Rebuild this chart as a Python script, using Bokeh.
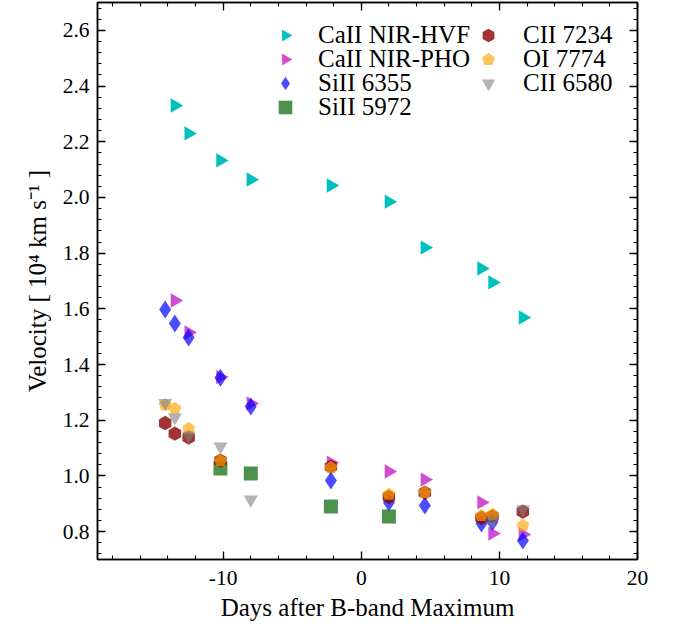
import numpy as np
from bokeh.plotting import figure
from bokeh.models import (Range1d, FixedTicker, PrintfTickFormatter, LinearAxis,
                          Legend, LegendItem, CustomJSTickFormatter)
from bokeh.embed import file_html
from bokeh.resources import INLINE

# ---------------- data (days after B max, velocity in 1e4 km/s) ----------------
hvf_days = [-13.5, -12.5, -10.2, -8.0, -2.2, 2.0, 4.6, 8.7, 9.5, 11.7]
hvf_vel = [2.330, 2.230, 2.133, 2.064, 2.043, 1.985, 1.820, 1.745, 1.695, 1.569]

pho_days = [-13.5, -12.5, -10.2, -8.0, -2.2, 2.0, 4.6, 8.7, 9.5, 11.7]
pho_vel = [1.630, 1.515, 1.355, 1.260, 1.048, 1.016, 0.987, 0.905, 0.793, 0.790]

si6355_days = [-14.2, -13.5, -12.5, -10.2, -8.0, -2.2, 2.0, 4.6, 8.7, 9.5, 11.7]
si6355_vel = [1.598, 1.547, 1.497, 1.353, 1.249, 0.984, 0.905, 0.894, 0.829, 0.835, 0.768]

si5972_days = [-10.2, -8.0, -2.2, 2.0]
si5972_vel = [1.027, 1.009, 0.890, 0.854]

c7234_days = [-14.2, -13.5, -12.5, -10.2, -2.2, 2.0, 4.6, 8.7, 9.5, 11.7]
c7234_vel = [1.190, 1.152, 1.138, 1.055, 1.033, 0.925, 0.940, 0.850, 0.855, 0.872]

o7774_days = [-14.2, -13.5, -12.5, -10.2, -2.2, 2.0, 4.6, 8.7, 9.5, 11.7]
o7774_vel = [1.255, 1.242, 1.170, 1.055, 1.030, 0.934, 0.941, 0.858, 0.862, 0.822]

c6580_days = [-14.2, -13.5, -12.5, -10.2, -8.0, 9.5, 11.7]
c6580_vel = [1.262, 1.210, 1.145, 1.106, 0.915, 0.840, 0.880]

x_ticks = [-20, -10, 0, 10, 20]
y_ticks = [0.8, 1.0, 1.2, 1.4, 1.6, 1.8, 2.0, 2.2, 2.4, 2.6]

FONT = "Liberation Serif"

p = figure(frame_width=540, frame_height=557,
           x_range=Range1d(-19.1, 20), y_range=Range1d(0.7, 2.7),
           output_backend="svg", toolbar_location=None,
           min_border_left=97, min_border_top=2, min_border_right=18,
           min_border_bottom=60)
p.grid.visible = False
p.outline_line_color = "black"
p.outline_line_width = 1.5
p.background_fill_color = "white"

xt = FixedTicker(ticks=x_ticks, minor_ticks=list(np.arange(-20, 21, 2)))
yt = FixedTicker(ticks=y_ticks, minor_ticks=[round(v, 2) for v in np.arange(0.68, 2.72, 0.04)])

def style_axis(ax):
    ax.major_tick_in = 8
    ax.major_tick_out = 0
    ax.minor_tick_in = 4
    ax.minor_tick_out = 0
    ax.major_tick_line_width = 1.3
    ax.minor_tick_line_width = 1.1
    ax.axis_line_width = 1.5
    ax.major_label_text_font = FONT
    ax.major_label_text_font_size = "21.5px"
    ax.major_label_text_color = "black"
    ax.axis_label_text_font = FONT
    ax.axis_label_text_font_size = "25px"
    ax.axis_label_text_font_style = "normal"
    ax.axis_label_text_color = "black"

xa = p.xaxis[0]
xa.ticker = xt
xa.formatter = PrintfTickFormatter(format="%d")
xa.axis_label = "Days after B-band Maximum"
style_axis(xa)
xa.major_label_standoff = 11
xa.axis_label_standoff = 6

ya = p.yaxis[0]
ya.ticker = yt
ya.formatter = PrintfTickFormatter(format="%.1f")
ya.axis_label = "Velocity [ 10\u2074 km s\u207b\u00b9 ]"
style_axis(ya)
ya.major_label_standoff = 8
ya.axis_label_standoff = 9

blank = CustomJSTickFormatter(code="return ''")
top = LinearAxis(ticker=xt, formatter=blank, axis_label=None)
style_axis(top)
top.major_label_standoff = 0
p.add_layout(top, "above")
right = LinearAxis(ticker=yt, formatter=blank, axis_label=None)
style_axis(right)
right.major_label_standoff = 0
p.add_layout(right, "right")

r_hvf = p.ngon(x=hvf_days, y=hvf_vel, radius=8.3, radius_units="screen", n=3,
               angle=-np.pi / 2, fill_color="#00BFBF", fill_alpha=1.0, line_color=None)
r_pho = p.ngon(x=pho_days, y=pho_vel, radius=8.3, radius_units="screen", n=3,
               angle=-np.pi / 2, fill_color="#BF00BF", fill_alpha=0.7, line_color=None)
r_si1 = p.scatter(si6355_days, si6355_vel, marker="diamond", size=18,
                  fill_color="blue", fill_alpha=0.7, line_color=None)
r_si2 = p.scatter(si5972_days, si5972_vel, marker="square", size=14,
                  fill_color="#006400", fill_alpha=0.7, line_color=None)
r_c1 = p.ngon(x=c7234_days, y=c7234_vel, radius=7.2, radius_units="screen", n=6,
              angle=0, fill_color="#8B0000", fill_alpha=0.8, line_color=None)
r_o = p.ngon(x=o7774_days, y=o7774_vel, radius=6.8, radius_units="screen", n=5,
             angle=0, fill_color="orange", fill_alpha=0.65, line_color=None)
r_c2 = p.scatter(c6580_days, c6580_vel, marker="inverted_triangle", size=14,
                 fill_color="gray", fill_alpha=0.6, line_color=None)

def make_legend(label, rend, loc, standoff):
    lg = Legend(items=[LegendItem(label=label, renderers=[rend])], location=loc)
    lg.background_fill_alpha = 0
    lg.border_line_color = None
    lg.padding = 0
    lg.margin = 0
    lg.glyph_width = 34
    lg.glyph_height = 34
    lg.spacing = 0
    lg.label_height = 20
    lg.label_standoff = standoff
    lg.label_text_font = FONT
    lg.label_text_font_size = "25px"
    lg.label_text_color = "black"
    return lg

col1 = [("CaII NIR-HVF", r_hvf), ("CaII NIR-PHO", r_pho),
        ("SiII 6355", r_si1), ("SiII 5972", r_si2)]
col2 = [("CII 7234", r_c1), ("OI 7774", r_o), ("CII 6580", r_c2)]
row_bottoms = [507, 483, 459, 435]
for (lab, r), yb in zip(col1, row_bottoms):
    p.add_layout(make_legend(lab, r, (171, yb), 16))
for (lab, r), yb in zip(col2, row_bottoms):
    p.add_layout(make_legend(lab, r, (374, yb), 18))

open("out.html", "w").write(file_html(p, INLINE))
